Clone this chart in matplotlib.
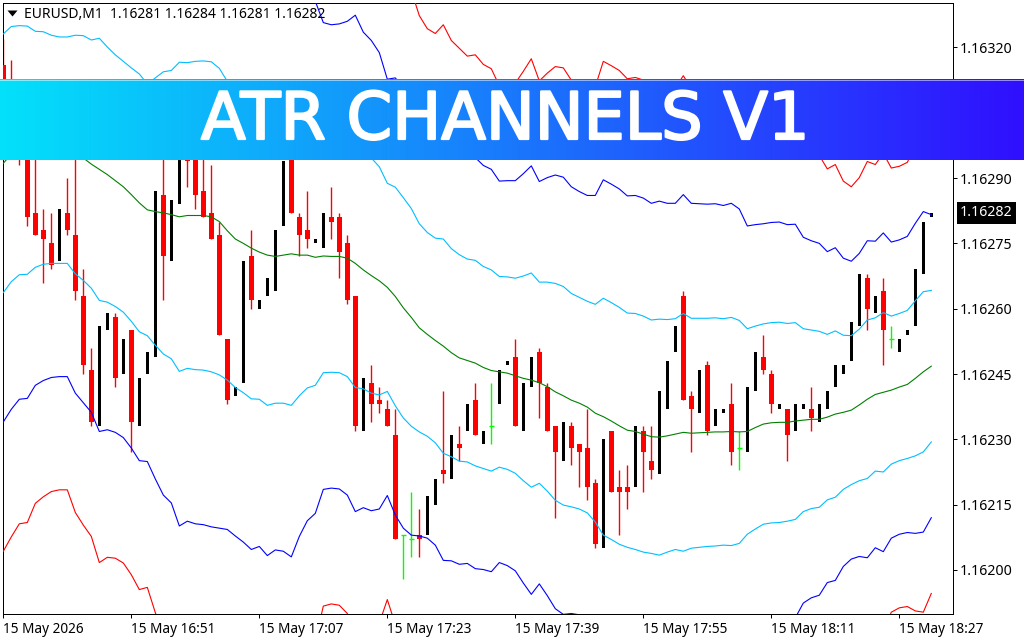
import numpy as np
import matplotlib
matplotlib.use('Agg')
from matplotlib import pyplot as plt
from matplotlib import patheffects

# all series are in points above 1.16000 (245 -> 1.16245), one entry per M1 bar
opens = [316, 310, 306, 297, 282, 278, 275, 271, 282, 277, 263, 246, 233, 255, 258, 245, 255, 233, 245, 249,
         286, 271, 284, 295, 299, 287, 282, 277, 253, 240, 243, 272, 260, 263, 264, 279, 298, 281, 278, 275,
         274, 281, 281, 275, 263, 232, 243, 239, 237, 231, 208, 207, 208, 208, 215, 223, 221, 229, 232, 239,
         229, 233, 238, 247, 249, 232, 242, 250, 242, 233, 225, 233, 229, 228, 220, 205, 232, 219, 219, 219,
         232, 225, 222, 237, 250, 263, 240, 236, 247, 233, 236, 238, 228, 227, 241, 249, 245, 237, 237, 232,
         237, 237, 234, 237, 242, 245, 248, 256, 267, 259, 264, 253, 250, 254, 256, 268, 281]
highs = [322, 317, 311, 303, 298, 283, 282, 283, 290, 298, 269, 251, 256, 259, 259, 253, 255, 244, 250, 287,
         298, 285, 300, 301, 301, 297, 293, 280, 253, 242, 271, 278, 262, 267, 278, 294, 298, 282, 287, 276,
         282, 288, 282, 277, 263, 244, 247, 242, 239, 237, 208, 218, 214, 217, 221, 241, 231, 233, 238, 243,
         232, 243, 246, 248, 253, 243, 249, 251, 243, 233, 234, 234, 229, 237, 221, 230, 232, 223, 224, 233,
         233, 233, 241, 248, 256, 264, 241, 246, 248, 237, 237, 243, 232, 242, 250, 254, 246, 238, 237, 238,
         238, 242, 238, 241, 247, 247, 257, 268, 268, 263, 267, 256, 253, 255, 269, 280, 282]
lows = [300, 302, 293, 279, 277, 266, 269, 271, 277, 262, 245, 233, 233, 255, 242, 245, 227, 233, 245, 249,
        262, 271, 284, 288, 283, 281, 276, 254, 238, 240, 243, 260, 260, 263, 264, 279, 282, 272, 274, 275,
        274, 276, 267, 261, 232, 232, 234, 236, 233, 207, 198, 203, 203, 208, 215, 220, 221, 225, 232, 231,
        229, 229, 238, 247, 233, 232, 242, 235, 232, 212, 225, 224, 219, 216, 205, 205, 218, 208, 214, 219,
        218, 221, 222, 237, 250, 239, 227, 236, 231, 233, 236, 224, 223, 227, 241, 245, 236, 237, 225, 232,
        237, 232, 234, 237, 242, 245, 248, 256, 255, 259, 247, 251, 250, 254, 256, 268, 281]
closes = [305, 304, 297, 281, 277, 276, 270, 283, 278, 264, 247, 234, 256, 259, 244, 253, 234, 244, 250, 287,
          272, 285, 300, 294, 286, 281, 276, 254, 239, 242, 271, 262, 262, 267, 278, 294, 282, 277, 276, 276,
          282, 280, 273, 262, 233, 244, 238, 238, 233, 207, 208, 207, 207, 217, 221, 222, 231, 228, 238, 231,
          232, 233, 246, 248, 233, 243, 249, 243, 232, 227, 234, 228, 227, 219, 206, 230, 218, 218, 218, 233,
          227, 223, 241, 248, 256, 239, 237, 246, 232, 237, 237, 227, 228, 242, 250, 246, 238, 238, 231, 238,
          238, 235, 238, 241, 247, 247, 257, 268, 260, 263, 255, 253, 253, 255, 269, 280, 282]

mid = [293.4, 295.5, 296.4, 296.4, 296.6, 296.9, 296.6, 296.4, 296.4, 295.4, 294.6, 293.2, 292.0, 290.8, 289.4, 288.0, 286.2, 284.3, 282.7, 282.3,
       282.0, 281.6, 281.1, 281.4, 281.4, 281.4, 281.1, 280.0, 277.9, 276.0, 275.0, 273.9, 273.0, 272.3, 272.0, 272.3, 272.6, 272.3, 272.3, 271.8,
       272.1, 272.0, 272.0, 271.6, 270.4, 268.9, 267.6, 266.4, 264.9, 262.8, 260.2, 258.0, 255.6, 254.1, 252.7, 251.4, 249.9, 248.7, 248.1, 247.5,
       246.5, 245.8, 245.5, 245.2, 244.6, 244.0, 243.6, 243.0, 242.1, 240.9, 240.0, 239.0, 238.3, 237.4, 236.0, 235.2, 234.2, 233.1, 232.1, 231.8,
       231.2, 230.6, 230.5, 230.8, 231.2, 231.6, 231.4, 231.5, 231.6, 231.7, 231.7, 231.8, 231.7, 231.8, 232.7, 233.5, 233.8, 233.9, 233.9, 234.2,
       234.4, 234.6, 234.6, 235.1, 235.8, 236.2, 236.7, 237.9, 239.2, 240.3, 240.8, 241.3, 242.0, 242.6, 244.0, 245.5, 246.8]
upper1 = [323.1, 324.8, 325.0, 324.9, 323.7, 323.6, 322.8, 322.4, 322.4, 322.8, 322.7, 321.7, 322.1, 320.1, 318.3, 316.8, 315.3, 313.9, 311.6, 313.0,
          314.4, 314.7, 316.6, 316.5, 316.8, 316.9, 316.7, 315.2, 312.2, 310.1, 309.3, 308.5, 306.8, 306.8, 305.7, 306.3, 307.4, 304.6, 302.8, 301.2,
          298.9, 298.6, 298.7, 298.8, 298.9, 296.2, 294.6, 292.6, 288.8, 287.9, 285.5, 283.0, 279.5, 277.5, 276.2, 276.0, 273.8, 272.4, 271.4, 271.1,
          269.7, 268.9, 267.4, 267.3, 267.0, 267.5, 268.2, 266.1, 266.1, 265.8, 265.1, 263.5, 262.6, 261.7, 261.0, 262.4, 261.4, 260.3, 259.0, 258.9,
          258.3, 257.4, 257.6, 257.5, 257.7, 258.9, 257.8, 257.8, 257.8, 257.9, 257.7, 258.0, 257.3, 255.4, 256.0, 256.5, 256.8, 256.9, 256.6, 256.8,
          255.4, 255.1, 254.8, 254.1, 254.9, 253.9, 253.8, 255.3, 257.4, 257.9, 259.1, 258.3, 258.9, 259.6, 261.8, 263.9, 264.2]
upper2 = [352.8, 354.1, 353.6, 353.4, 350.8, 350.3, 349.0, 348.4, 348.4, 350.2, 350.8, 350.2, 352.2, 349.4, 347.2, 345.6, 344.4, 343.5, 340.5, 343.7,
          346.8, 347.8, 352.1, 351.6, 352.2, 352.4, 352.3, 350.4, 346.5, 344.2, 343.6, 343.1, 340.6, 341.3, 339.4, 340.3, 342.2, 336.9, 333.3, 330.6,
          325.7, 325.2, 325.4, 326.0, 327.4, 323.5, 321.6, 318.8, 312.7, 313.0, 310.8, 308.0, 303.4, 300.9, 299.7, 300.6, 297.7, 296.1, 294.7, 294.7,
          292.9, 292.0, 289.3, 289.4, 289.4, 291.0, 292.8, 289.2, 290.1, 290.7, 290.2, 288.0, 286.9, 286.0, 286.0, 289.6, 288.6, 287.5, 285.9, 286.0,
          285.4, 284.2, 284.7, 284.2, 284.2, 286.2, 284.2, 284.1, 284.0, 284.1, 283.7, 284.2, 282.9, 279.0, 279.3, 279.5, 279.8, 279.9, 279.3, 279.4,
          276.4, 275.6, 275.0, 273.1, 274.0, 271.6, 270.9, 272.7, 275.6, 275.5, 277.4, 275.3, 275.8, 276.6, 279.6, 282.3, 281.6]
upper3 = [382.5, 383.4, 382.2, 381.9, 377.9, 377.0, 375.2, 374.4, 374.4, 377.6, 378.9, 378.7, 382.3, 378.7, 376.1, 374.4, 373.5, 373.1, 369.4, 374.4,
          379.2, 380.9, 387.6, 386.7, 387.6, 387.9, 387.9, 385.6, 380.8, 378.3, 377.9, 377.7, 374.4, 375.8, 373.1, 374.3, 377.0, 369.2, 363.8, 360.0,
          352.5, 351.8, 352.1, 353.2, 355.9, 350.8, 348.6, 345.0, 336.6, 338.1, 336.1, 333.0, 327.3, 324.3, 323.2, 325.2, 321.6, 319.8, 318.0, 318.3,
          316.1, 315.1, 311.2, 311.5, 311.8, 314.5, 317.4, 312.3, 314.1, 315.6, 315.3, 312.5, 311.2, 310.3, 311.0, 316.8, 315.8, 314.7, 312.8, 313.1,
          312.5, 311.0, 311.8, 310.9, 310.7, 313.5, 310.6, 310.4, 310.2, 310.3, 309.7, 310.4, 308.5, 302.6, 302.6, 302.5, 302.8, 302.9, 302.0, 302.0,
          297.4, 296.1, 295.2, 292.1, 293.1, 289.3, 288.0, 290.1, 293.8, 293.1, 295.7, 292.3, 292.7, 293.6, 297.4, 300.7, 299.0]
lower1 = [263.7, 266.2, 267.8, 267.9, 269.5, 270.2, 270.4, 270.4, 270.4, 268.0, 266.5, 264.7, 261.9, 261.5, 260.5, 259.2, 257.1, 254.7, 253.8, 251.6,
          249.6, 248.5, 245.6, 246.3, 246.0, 245.9, 245.5, 244.8, 243.6, 241.9, 240.7, 239.3, 239.2, 237.8, 238.3, 238.3, 237.8, 240.0, 241.8, 242.4,
          245.3, 245.4, 245.3, 244.4, 241.9, 241.6, 240.6, 240.2, 241.0, 237.7, 234.9, 233.0, 231.7, 230.7, 229.2, 226.8, 226.0, 225.0, 224.8, 223.9,
          223.3, 222.7, 223.6, 223.1, 222.2, 220.5, 219.0, 219.9, 218.1, 216.0, 214.9, 214.5, 214.0, 213.1, 211.0, 208.0, 207.0, 205.9, 205.2, 204.7,
          204.1, 203.8, 203.4, 204.1, 204.7, 204.3, 205.0, 205.2, 205.4, 205.5, 205.7, 205.6, 206.1, 208.2, 209.4, 210.5, 210.8, 210.9, 211.2, 211.6,
          213.4, 214.1, 214.4, 216.1, 216.7, 218.5, 219.6, 220.5, 221.0, 222.7, 222.5, 224.3, 225.1, 225.6, 226.2, 227.1, 229.4]
lower2 = [234.0, 236.9, 239.2, 239.4, 242.4, 243.5, 244.2, 244.4, 244.4, 240.6, 238.4, 236.2, 231.8, 232.2, 231.6, 230.4, 228.0, 225.1, 224.9, 220.9,
          217.2, 215.4, 210.1, 211.2, 210.6, 210.4, 209.9, 209.6, 209.3, 207.8, 206.4, 204.7, 205.4, 203.3, 204.6, 204.3, 203.0, 207.7, 211.3, 213.0,
          218.5, 218.8, 218.6, 217.2, 213.4, 214.3, 213.6, 214.0, 217.1, 212.6, 209.6, 208.0, 207.8, 207.3, 205.7, 202.2, 202.1, 201.3, 201.5, 200.3,
          200.1, 199.6, 201.7, 201.0, 199.8, 197.0, 194.4, 196.8, 194.1, 191.1, 189.8, 190.0, 189.7, 188.8, 186.0, 180.8, 179.8, 178.7, 178.3, 177.6,
          177.0, 177.0, 176.3, 177.4, 178.2, 177.0, 178.6, 178.9, 179.2, 179.3, 179.7, 179.4, 180.5, 184.6, 186.1, 187.5, 187.8, 187.9, 188.5, 189.0,
          192.4, 193.6, 194.2, 197.1, 197.6, 200.8, 202.5, 203.1, 202.8, 205.1, 204.2, 207.3, 208.2, 208.6, 208.4, 208.7, 212.0]
lower3 = [204.3, 207.6, 210.6, 210.9, 215.3, 216.8, 218.0, 218.4, 218.4, 213.2, 210.3, 207.7, 201.7, 202.9, 202.7, 201.6, 198.9, 195.5, 196.0, 190.2,
          184.8, 182.3, 174.6, 176.1, 175.2, 174.9, 174.3, 174.4, 175.0, 173.7, 172.1, 170.1, 171.6, 168.8, 170.9, 170.3, 168.2, 175.4, 180.8, 183.6,
          191.7, 192.2, 191.9, 190.0, 184.9, 187.0, 186.6, 187.8, 193.2, 187.5, 184.3, 183.0, 183.9, 183.9, 182.2, 177.6, 178.2, 177.6, 178.2, 176.7,
          176.9, 176.5, 179.8, 178.9, 177.4, 173.5, 169.8, 173.7, 170.1, 166.2, 164.7, 165.5, 165.4, 164.5, 161.0, 153.6, 152.6, 151.5, 151.4, 150.5,
          149.9, 150.2, 149.2, 150.7, 151.7, 149.7, 152.2, 152.6, 153.0, 153.1, 153.7, 153.2, 154.9, 161.0, 162.8, 164.5, 164.8, 164.9, 165.8, 166.4,
          171.4, 173.1, 174.0, 178.1, 178.5, 183.1, 185.4, 185.7, 184.6, 187.5, 185.9, 190.3, 191.3, 191.6, 190.6, 190.3, 194.6]

price_ticks = [1.16200, 1.16215, 1.16230, 1.16245, 1.16260, 1.16275, 1.16290, 1.16305, 1.16320]
time_ticks = [0, 16, 32, 48, 64, 80, 96, 112]
time_labels = ['15 May 2026', '15 May 16:51', '15 May 17:07', '15 May 17:23',
               '15 May 17:39', '15 May 17:55', '15 May 18:11', '15 May 18:27']
header = 'EURUSD,M1  1.16281 1.16284 1.16281 1.16282'
last_price = '1.16282'
title = 'ATR CHANNELS V1'


def to_price(pts):
    return 1.16 + np.array(pts) / 1e5


W, H = 1024, 640
PX = 0.72  # one pixel in points at dpi 100
plt.rcParams['font.family'] = ['Noto Sans', 'DejaVu Sans']

fig = plt.figure(figsize=(W / 100, H / 100), dpi=100, facecolor='white')
ax = fig.add_axes([3 / W, 1 - 613.5 / H, 949.5 / W, 610.5 / H])

o, h, l, c = to_price(opens), to_price(highs), to_price(lows), to_price(closes)
x = np.arange(len(o))

# candles: down bars red with wicks, up bars plain black, doji in lime
down = c < o
up = c > o
doji = c == o
ax.vlines(x[down], l[down], h[down], color='#ff0000', lw=1.0, zorder=2)
ax.bar(x[down], (o - c)[down], bottom=c[down], width=0.625, color='#ff0000', lw=0, antialiased=False, zorder=3)
ax.bar(x[up], (c - o)[up], bottom=o[up], width=0.4, color='black', lw=0, antialiased=False, zorder=3)
ax.vlines(x[doji], l[doji], h[doji], color='#00ff00', lw=1.0, zorder=3)
ax.hlines(c[doji], x[doji] - 0.3, x[doji] + 0.3, color='#00ff00', lw=1.0, zorder=3)

# channel lines
for band, col in [(upper3, '#ff0000'), (upper2, '#0000ff'), (upper1, '#00bfff'), (mid, '#008000'),
                  (lower1, '#00bfff'), (lower2, '#0000ff'), (lower3, '#ff0000')]:
    ax.plot(x, to_price(band), color=col, lw=0.8, zorder=4)

ax.set_xlim(-0.04, 118.65)
ax.set_ylim(1.161900, 1.163302)
for s in ax.spines.values():
    s.set_linewidth(PX)
ax.yaxis.tick_right()
ax.set_yticks(price_ticks)
ax.set_yticklabels(['%.5f' % p for p in price_ticks])
ax.set_xticks(time_ticks)
ax.set_xticklabels(time_labels, ha='left')
ax.tick_params(axis='y', length=3, width=PX, labelsize=10.2, pad=2)
ax.tick_params(axis='x', length=3, width=PX, labelsize=9.8, pad=3)

# chart header with the little menu triangle
ax.plot([9 / 949.5], [1 - 10 / 610.5], marker=[(-1, 0.6), (1, 0.6), (0, -0.6)], ms=7.2, color='black', mew=0,
        transform=ax.transAxes, zorder=6)
ax.text(21 / 949.5, 1 - 11 / 610.5, header, transform=ax.transAxes, fontsize=10, va='center', ha='left', zorder=6)

# current price tag
ax.text(1.0 + 7.5 / 949.5, c[-1], last_price, transform=ax.get_yaxis_transform(), color='white', fontsize=10.2,
        va='center', ha='left', clip_on=False, zorder=6,
        bbox=dict(facecolor='black', edgecolor='none', pad=2.2))

# gradient banner over the chart
banner = fig.add_axes([0, 1 - 160 / H, 1, 81 / H], zorder=10)
grad = np.linspace(np.array([3, 225, 250]), np.array([48, 15, 255]), 512)[None, :, :] / 255
banner.imshow(grad, aspect='auto', extent=(0, W, 0, 81), interpolation='bilinear')
banner.axhline(80.5, color='white', alpha=0.5, lw=PX)
banner.set_xlim(0, W)
banner.set_ylim(0, 81)
banner.axis('off')
banner.text(505, 21, title, color='white', fontsize=47, family=['DejaVu Sans'], ha='center', va='baseline',
            path_effects=[patheffects.withStroke(linewidth=1.6, foreground='white')])

fig.savefig('out.png', dpi=100)
